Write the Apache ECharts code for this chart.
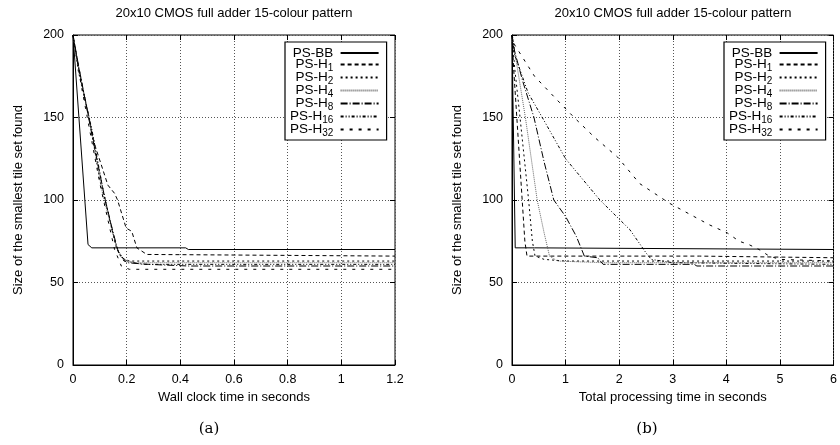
<!DOCTYPE html>
<html>
<head>
<meta charset="utf-8">
<script src="https://cdn.jsdelivr.net/npm/echarts@6/dist/echarts.min.js"></script>
<style>
  html, body { margin: 0; padding: 0; background: #fff; }
  #chart { width: 840px; height: 445px; }
</style>
</head>
<body>
<div id="chart"></div>
<script>
// series names, legend order
const seriesNames = ['PS-BB', 'PS-H1', 'PS-H2', 'PS-H4', 'PS-H8', 'PS-H16', 'PS-H32'];

// (a) wall clock time [s] vs size of smallest tile set
const wallBB  = [[0,200],[0.056,73],[0.07,71],[0.42,71],[0.43,70],[1.2,70]];
const wallH1  = [[0,200],[0.01,190],[0.04,165],[0.08,134],[0.13,109],[0.155,104],[0.166,100],[0.198,83],[0.219,81],[0.238,71],[0.275,67],[0.28,66],[1.2,66]];
const wallH2  = [[0,200],[0.02,178],[0.06,150],[0.1,112],[0.135,90],[0.16,72],[0.18,65],[0.21,63],[1.2,63]];
const wallH4  = [[0,200],[0.03,172],[0.065,145],[0.11,104],[0.14,85],[0.165,70],[0.19,64],[0.23,62],[1.2,62]];
const wallH8  = [[0,200],[0.02,182],[0.07,140],[0.12,100],[0.15,80],[0.17,68],[0.2,62],[0.28,61],[0.43,60],[1.2,60]];
const wallH16 = [[0,200],[0.025,176],[0.07,143],[0.11,108],[0.145,82],[0.165,70],[0.19,63],[0.26,61],[1.2,61]];
const wallH32 = [[0,200],[0.03,170],[0.065,140],[0.1,110],[0.13,88],[0.155,70],[0.18,60],[0.21,58],[1.2,58]];

// (b) total processing time [s] vs size of smallest tile set
const totalBB  = [[0,200],[0.06,71],[0.42,71],[0.43,70],[6,70]];
const totalH1  = [[0,200],[0.03,180],[0.09,150],[0.19,100],[0.24,75],[0.28,66],[3.5,66],[3.52,65],[6,65]];
const totalH2  = [[0,200],[0.05,180],[0.15,150],[0.31,100],[0.38,75],[0.43,66],[0.6,64],[1.0,63],[6,63]];
const totalH4  = [[0,200],[0.1,180],[0.25,150],[0.47,100],[0.6,80],[0.7,66],[0.85,63],[1.7,62],[6,62]];
const totalH8  = [[0,200],[0.05,190],[0.2,172],[0.41,150],[0.6,123],[0.78,100],[1.0,90],[1.2,78],[1.35,66],[1.6,65],[1.7,61],[3.4,61],[3.45,60],[6,60]];
const totalH16 = [[0,200],[0.05,188],[0.3,165],[0.6,148],[1.0,125],[1.64,100],[2.2,82],[2.5,68],[2.6,64],[3.0,62],[6,61]];
const totalH32 = [[0,200],[0.05,194],[0.42,175],[0.86,160],[1.16,150],[1.54,138],[1.97,126],[2.38,110],[2.94,98],[3.68,85],[4.02,80],[4.24,75],[4.42,73],[4.61,70],[4.8,66],[5.0,64],[6,63]];

const wallData  = [wallBB, wallH1, wallH2, wallH4, wallH8, wallH16, wallH32];
const totalData = [totalBB, totalH1, totalH2, totalH4, totalH8, totalH16, totalH32];

// gnuplot-like dash patterns
const dashes = ['solid', [4,3], [2,3], [1,1], [7,2,1,2], [3,2,1,2,1,2], [3,6]];
const lineColors = ['#000', '#000', '#000', '#666', '#000', '#000', '#000'];

const titleText = '20x10 CMOS full adder 15-colour pattern';
const yName = 'Size of the smallest tile set found';
const font = 'Liberation Sans';

const chart = echarts.init(document.getElementById('chart'));

// "PS-H16" -> PS-H with subscript 16
function legendFmt(name) {
  const m = name.match(/^PS-H(\d+)$/);
  return m ? '{n|PS-H}{s|' + m[1] + '}{g| }' : '{n|' + name + '}{g| }';
}

function makeLegend(left) {
  return {
    orient: 'vertical', left: left, top: 42, align: 'right', icon: 'inherit',
    data: seriesNames, itemWidth: 38, itemHeight: 13, itemGap: -4,
    padding: [4, 7, 2, 5], borderColor: '#000', borderWidth: 1.2, backgroundColor: '#fff',
    formatter: legendFmt, selectedMode: false,
    itemStyle: { opacity: 0 },
    textStyle: {
      color: '#000', fontFamily: font, fontSize: 13.5,
      rich: {
        n: { fontSize: 13.5, fontFamily: font, color: '#000', lineHeight: 13 },
        s: { fontSize: 10, fontFamily: font, color: '#000', lineHeight: 10, padding: [7, 0, 0, 0] },
        g: { fontSize: 8, lineHeight: 17 }
      }
    }
  };
}

function xAx(grid, max, interval, name, pos) {
  const main = pos === 'bottom';
  return {
    type: 'value', gridIndex: grid, min: 0, max: max, interval: interval, position: pos,
    name: main ? name : '', nameLocation: 'middle', nameGap: 26,
    nameTextStyle: { fontFamily: font, fontSize: 13, color: '#000' },
    axisLine: { show: main, onZero: false, lineStyle: { color: '#000', width: 1 } },
    axisTick: { show: true, inside: true, length: 5, lineStyle: { color: '#000' } },
    axisLabel: { show: main, color: '#000', fontFamily: font, fontSize: 12.5, margin: 8 },
    splitLine: { show: main, lineStyle: { color: '#555', type: [1, 2], width: 1 } }
  };
}

function yAx(grid, pos) {
  const main = pos === 'left';
  return {
    type: 'value', gridIndex: grid, min: 0, max: 200, interval: 50, position: pos,
    name: main ? yName : '', nameLocation: 'middle', nameGap: 48,
    nameTextStyle: { fontFamily: font, fontSize: 13, color: '#000' },
    axisLine: { show: main, onZero: false, lineStyle: { color: '#000', width: 1 } },
    axisTick: { show: true, inside: true, length: 5, lineStyle: { color: '#000' } },
    axisLabel: { show: main, color: '#000', fontFamily: font, fontSize: 12.5, margin: 9 },
    splitLine: { show: main, lineStyle: { color: '#555', type: [1, 2], width: 1 } }
  };
}

const series = [];
[wallData, totalData].forEach((set, g) => {
  set.forEach((d, i) => {
    series.push({
      name: seriesNames[i], type: 'line', xAxisIndex: g * 2, yAxisIndex: g * 2,
      data: d, symbol: 'none', showSymbol: false, z: 3,
      lineStyle: { color: lineColors[i], width: 1, type: dashes[i] },
      itemStyle: { color: lineColors[i] }
    });
  });
});

chart.setOption({
  animation: false,
  backgroundColor: '#fff',
  title: [
    { text: titleText, left: 234, top: 7, textAlign: 'center', padding: 0,
      textStyle: { fontFamily: font, fontSize: 13, fontWeight: 'normal', color: '#000' } },
    { text: titleText, left: 673, top: 7, textAlign: 'center', padding: 0,
      textStyle: { fontFamily: font, fontSize: 13, fontWeight: 'normal', color: '#000' } },
    { text: '(a)', left: 209, top: 422, textAlign: 'center', padding: 0,
      textStyle: { fontFamily: 'DejaVu Serif', fontSize: 15, fontWeight: 'normal', color: '#000' } },
    { text: '(b)', left: 647, top: 422, textAlign: 'center', padding: 0,
      textStyle: { fontFamily: 'DejaVu Serif', fontSize: 15, fontWeight: 'normal', color: '#000' } }
  ],
  legend: [makeLegend(285), makeLegend(724)],
  grid: [
    { left: 73, right: 445, top: 35, bottom: 80, show: true, borderColor: '#000', borderWidth: 1, backgroundColor: 'transparent' },
    { left: 512, right: 6, top: 35, bottom: 80, show: true, borderColor: '#000', borderWidth: 1, backgroundColor: 'transparent' }
  ],
  xAxis: [
    xAx(0, 1.2, 0.2, 'Wall clock time in seconds', 'bottom'),
    xAx(0, 1.2, 0.2, '', 'top'),
    xAx(1, 6, 1, 'Total processing time in seconds', 'bottom'),
    xAx(1, 6, 1, '', 'top')
  ],
  yAxis: [yAx(0, 'left'), yAx(0, 'right'), yAx(1, 'left'), yAx(1, 'right')],
  series: series
});
</script>
</body>
</html>
